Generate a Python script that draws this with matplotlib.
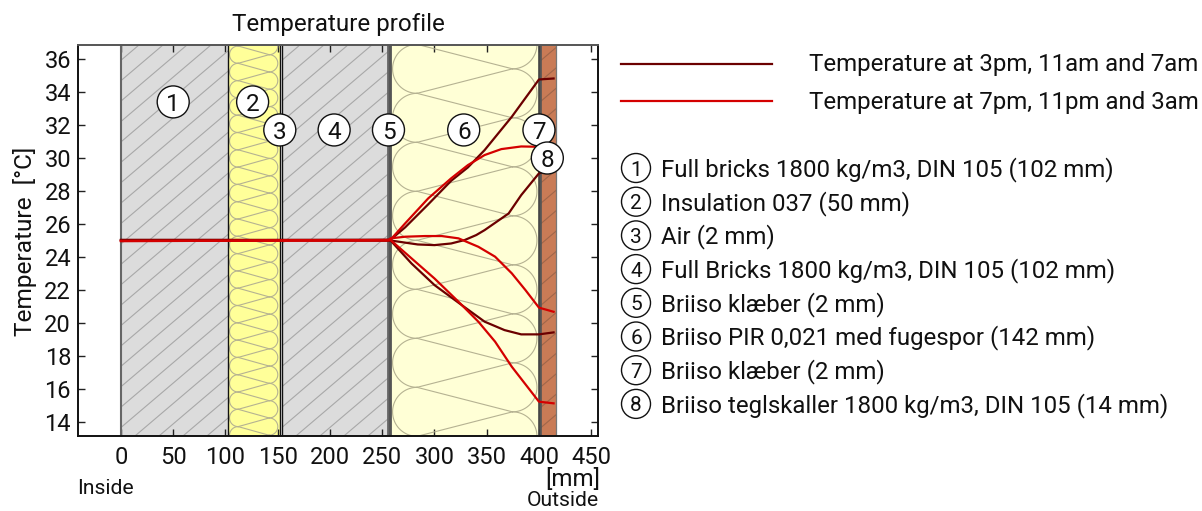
import numpy as np
import matplotlib
matplotlib.use("Agg")
import matplotlib.pyplot as plt
from matplotlib.patches import Circle, Rectangle

plt.rcParams["font.family"] = ["Roboto", "DejaVu Sans"]

# layer boundaries in mm
layer_edges = [0, 102, 152, 154, 256, 258, 400, 402, 416]
layer_names = [
    "Full bricks 1800 kg/m3, DIN 105 (102 mm)",
    "Insulation 037 (50 mm)",
    "Air (2 mm)",
    "Full Bricks 1800 kg/m3, DIN 105 (102 mm)",
    "Briiso klæber (2 mm)",
    "Briiso PIR 0,021 med fugespor (142 mm)",
    "Briiso klæber (2 mm)",
    "Briiso teglskaller 1800 kg/m3, DIN 105 (14 mm)",
]
layer_colors = ["#dcdcdc", "#ffff99", "#ffffff", "#dcdcdc", "#555555", "#ffffd6", "#555555", "#c97b56"]
label_x = [50, 126, 152, 204, 256, 328, 400, 408]
label_y = [33.4, 33.4, 31.7, 31.7, 31.7, 31.7, 31.7, 30.0]

series_names = ["Temperature at 3pm, 11am and 7am", "Temperature at 7pm, 11pm and 3am"]

flat_x = [0, 102, 152, 154, 256]
dark_top_x = flat_x + [258, 272, 294, 316, 332, 348, 374, 400, 414]
dark_top_y = [25.03, 25.03, 25.04, 25.04, 25.05, 25.05, 25.8, 27.19, 28.62, 29.43, 30.48, 32.5, 34.76, 34.82]
dark_mid_x = flat_x + [258, 284, 300, 316, 329, 340, 348, 371, 383, 400, 414]
dark_mid_y = [25.03, 25.03, 25.02, 25.02, 25.0, 25.0, 24.76, 24.72, 24.82, 25.03, 25.33, 25.63, 26.64, 27.75, 29.07, 29.31]
dark_low_x = flat_x + [258, 278, 300, 326, 348, 367, 383, 400, 414]
dark_low_y = [25.03, 25.03, 25.02, 25.02, 25.0, 25.0, 23.61, 22.3, 21.09, 20.08, 19.57, 19.31, 19.31, 19.43]
red_top_x = flat_x + [258, 272, 294, 316, 332, 348, 364, 383, 400, 414]
red_top_y = [24.97, 24.98, 25.0, 25.0, 25.03, 25.05, 26.04, 27.55, 28.77, 29.57, 30.18, 30.54, 30.7, 30.68, 30.52]
red_mid_x = flat_x + [258, 272, 291, 307, 323, 342, 358, 374, 387, 400, 414]
red_mid_y = [24.97, 24.98, 25.0, 25.0, 25.03, 25.13, 25.23, 25.27, 25.27, 25.13, 24.62, 24.02, 23.01, 22.0, 20.93, 20.68]
red_low_x = flat_x + [258, 278, 300, 323, 342, 358, 374, 400, 414]
red_low_y = [24.97, 24.98, 25.0, 25.0, 25.0, 25.03, 23.92, 22.7, 21.29, 20.08, 18.87, 17.35, 15.23, 15.13]

x_ticks = [0, 50, 100, 150, 200, 250, 300, 350, 400, 450]
y_ticks = [14, 16, 18, 20, 22, 24, 26, 28, 30, 32, 34, 36]

fig_w, fig_h = 1202, 511
ax_left, ax_right, ax_top, ax_bottom = 78, 598, 45, 436
x_lim = (-41.1, 456.5)
y_lim = (13.15, 36.85)
px_x = (ax_right - ax_left) / (x_lim[1] - x_lim[0])
px_y = (ax_bottom - ax_top) / (y_lim[1] - y_lim[0])

fig = plt.figure(figsize=(fig_w / 100, fig_h / 100), dpi=100)
ax = fig.add_axes([ax_left / fig_w, 1 - ax_bottom / fig_h,
                   (ax_right - ax_left) / fig_w, (ax_bottom - ax_top) / fig_h])
ax.set_xlim(x_lim)
ax.set_ylim(y_lim)


def hatch(x0, x1, color, spacing=24):
    # diagonal lines, spaced in pixels
    rect = Rectangle((x0, y_lim[0]), x1 - x0, y_lim[1] - y_lim[0], transform=ax.transData)
    height = (y_lim[1] - y_lim[0]) * px_y
    slope = 0.85
    for off in np.arange(-height / slope - 6, (x1 - x0) * px_x + spacing, spacing):
        xs = np.array([off, off + height / slope]) / px_x + x0
        ys = np.array([y_lim[0], y_lim[1]])
        ln, = ax.plot(xs, ys, color=color, lw=0.8, zorder=2)
        ln.set_clip_path(rect)


def insulation(x0, x1, node_y, period, pad):
    # rounded zigzag, sizes in pixels
    r = period / 2
    rect = Rectangle((x0, y_lim[0]), x1 - x0, y_lim[1] - y_lim[0], transform=ax.transData)
    left_c = x0 + (pad + r) / px_x
    right_c = x1 - (pad + r) / px_x
    step = period / px_y
    t = np.linspace(-np.pi / 2, np.pi / 2, 40)
    for k in range(-12, 30):
        yl = node_y - k * step
        yr = yl + step / 2
        arcs = [(left_c - r / px_x * np.cos(t), yl - step / 2 + step / 2 * np.sin(t)),
                (right_c + r / px_x * np.cos(t), yr - step / 2 + step / 2 * np.sin(t)),
                ([left_c, right_c], [yl, yr]),
                ([left_c, right_c], [yl, yr - step])]
        for xs, ys in arcs:
            ln, = ax.plot(xs, ys, color="#b5b292", lw=0.8, zorder=2)
            ln.set_clip_path(rect)


for i in range(len(layer_names)):
    ax.add_patch(Rectangle((layer_edges[i], y_lim[0]), layer_edges[i + 1] - layer_edges[i],
                           y_lim[1] - y_lim[0], facecolor=layer_colors[i], edgecolor="none", zorder=1))

hatch(layer_edges[0], layer_edges[1], "#a8a8a8")
hatch(layer_edges[3], layer_edges[4], "#a8a8a8")
hatch(layer_edges[7], layer_edges[8], "#a0664a")
insulation(layer_edges[1], layer_edges[2], 35.74, 17.3, 2)
insulation(layer_edges[5], layer_edges[6], 33.92, 49, 2)

for xv, col, lw in [(0, "#666666", 1.5), (102, "#111111", 1.0), (152, "#111111", 1.0), (154, "#111111", 1.0),
                    (256, "#666666", 1.3), (258, "#555555", 1.3), (400, "#444444", 1.2), (402, "#555555", 1.2),
                    (416, "#777777", 0.9)]:
    ax.axvline(xv, color=col, lw=lw, zorder=3)

dark = "#6b0000"
red = "#d40000"
for xs, ys in [(dark_top_x, dark_top_y), (dark_mid_x, dark_mid_y), (dark_low_x, dark_low_y)]:
    ax.plot(xs, ys, color=dark, lw=1.6, zorder=4)
for xs, ys in [(red_top_x, red_top_y), (red_mid_x, red_mid_y), (red_low_x, red_low_y)]:
    ax.plot(xs, ys, color=red, lw=1.6, zorder=5)

ax.set_xticks(x_ticks)
ax.set_yticks(y_ticks)
ax.tick_params(axis="both", direction="in", top=True, right=True, length=5, width=1.0,
               labelsize=17, color="#222222", labelcolor="#111111")
ax.tick_params(axis="x", pad=7)
ax.tick_params(axis="y", pad=5)
for tk, spine in ax.spines.items():
    spine.set_linewidth(1.4)
    spine.set_color("#111111")
    spine.set_zorder(6)
ax.spines["top"].set_color("#555555")

# overlay in pixel coordinates for texts outside the axes
ov = fig.add_axes([0, 0, 1, 1], facecolor="none")
ov.set_xlim(0, fig_w)
ov.set_ylim(fig_h, 0)
ov.axis("off")


def circled(a, x, y, r, txt, size):
    a.add_patch(Circle((x, y), r, facecolor="white", edgecolor="#111111", lw=1.0, zorder=7))
    a.text(x, y, txt, ha="center", va="center_baseline", fontsize=size, color="#111111", zorder=8)


for i in range(len(layer_names)):
    px = ax_left + (label_x[i] - x_lim[0]) * px_x
    py = ax_bottom - (label_y[i] - y_lim[0]) * px_y
    circled(ov, px, py, 16, str(i + 1), 17.5)

ov.text(338, 24, "Temperature profile", ha="center", va="center", fontsize=17.4, color="#111111")
ov.text(25, 241, "Temperature  [°C]", rotation=90, ha="center", va="center", fontsize=17.6, color="#111111")
ov.text(573, 479, "[mm]", ha="center", va="center", fontsize=17.4, color="#111111")
ov.text(105, 489, "Inside", ha="center", va="center", fontsize=15.2, color="#111111")
ov.text(563, 500, "Outside", ha="center", va="center", fontsize=15.2, color="#111111")

for name, col, py in zip(series_names, [dark, red], [64, 101]):
    ov.plot([621, 772], [py, py], color=col, lw=1.6)
    ov.text(809, py + 1, name, ha="left", va="center", fontsize=17.3, color="#111111")

for i, name in enumerate(layer_names):
    py = 168 + i * 33.7
    circled(ov, 636, py, 14.5, str(i + 1), 15)
    ov.text(661, py + 1.5, name, ha="left", va="center", fontsize=17.3, color="#111111")

fig.savefig("out.png", dpi=100)
